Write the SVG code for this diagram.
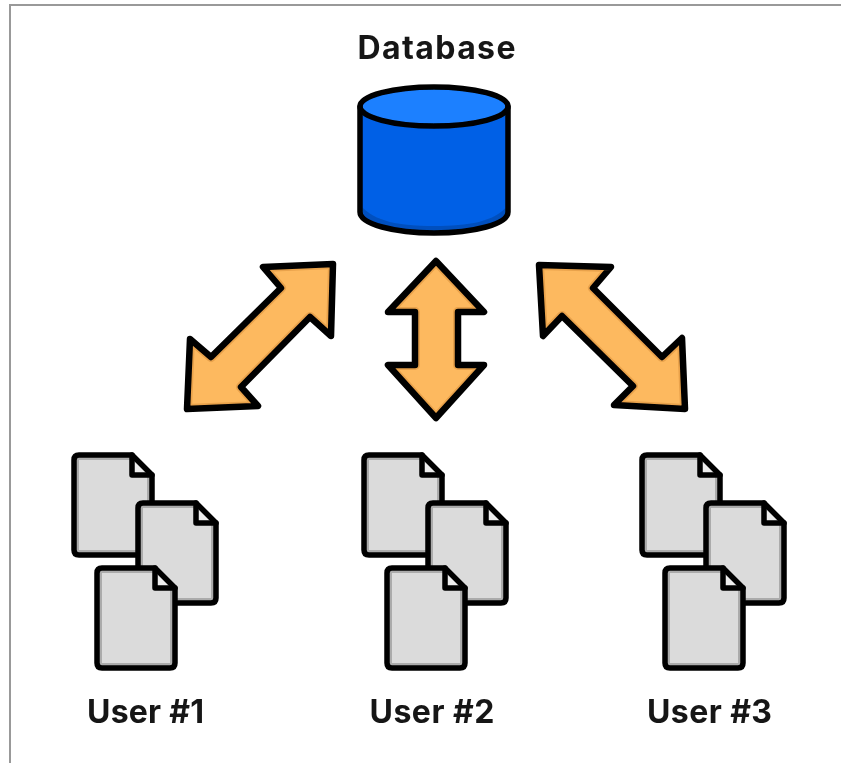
<svg xmlns="http://www.w3.org/2000/svg" width="841" height="763" viewBox="0 0 841 763">
<style>
.ln{fill:none;stroke:#000;stroke-width:5.5;stroke-linejoin:round;stroke-linecap:round}
.fat{stroke-width:6.500}
.ar{fill:#FDB95F;stroke:none}
.sh{fill:none;stroke:#E9A24B;stroke-width:10;stroke-linejoin:round}
.pg{fill:#DBDBDB;stroke:none}
.ps{fill:none;stroke:#ABABAB;stroke-width:10;stroke-linejoin:round}
.lb{font-family:"Inter","Liberation Sans",sans-serif;font-weight:700;font-size:32px;fill:#161616;text-anchor:middle}
</style>
<defs>
<filter id="soft" x="-5%" y="-5%" width="110%" height="110%"><feGaussianBlur stdDeviation="0.5"/></filter>
<clipPath id="c1"><path d="M263 267L333 264L331 336L310 317L241 387L258 406L187 409L190 339L211 357L281 288Z"/></clipPath>
<clipPath id="c2"><path d="M436 261L484 312H458V365H484L436 418L388 365H415V312H388Z"/></clipPath>
<clipPath id="c3"><path d="M539 265L611 267L593 288L662 357L682 338L685 409L614 405L633 386L562 316L543 336Z"/></clipPath>
<clipPath id="cd"><path d="M5 0H58L78 20V95Q78 100 73 100H5Q0 100 0 95V5Q0 0 5 0Z"/></clipPath>
<g id="doc">
<path class="pg" d="M5 0H58L78 20V95Q78 100 73 100H5Q0 100 0 95V5Q0 0 5 0Z"/>
<path class="ps" clip-path="url(#cd)" d="M5 0H58L78 20V95Q78 100 73 100H5Q0 100 0 95V5Q0 0 5 0Z"/>
<path d="M59 1V19H77Z" fill="#EDEDED"/>
<path class="ln" d="M5 0H58L78 20V95Q78 100 73 100H5Q0 100 0 95V5Q0 0 5 0Z"/>
<path class="ln" d="M58 0V20H78"/>
</g>
</defs>
<path d="M841 5H10V763" fill="none" stroke="#999" stroke-width="2"/>
<g filter="url(#soft)">
<g id="connectors">
<g id="arrow-user1">
<path class="ar" d="M263 267L333 264L331 336L310 317L241 387L258 406L187 409L190 339L211 357L281 288Z"/>
<path class="sh" clip-path="url(#c1)" d="M263 267L333 264L331 336L310 317L241 387L258 406L187 409L190 339L211 357L281 288Z"/>
<path class="ln fat" d="M263 267L333 264L331 336L310 317L241 387L258 406L187 409L190 339L211 357L281 288Z"/>
</g>
<g id="arrow-user2">
<path class="ar" d="M436 261L484 312H458V365H484L436 418L388 365H415V312H388Z"/>
<path class="sh" clip-path="url(#c2)" d="M436 261L484 312H458V365H484L436 418L388 365H415V312H388Z"/>
<path class="ln fat" d="M436 261L484 312H458V365H484L436 418L388 365H415V312H388Z"/>
</g>
<g id="arrow-user3">
<path class="ar" d="M539 265L611 267L593 288L662 357L682 338L685 409L614 405L633 386L562 316L543 336Z"/>
<path class="sh" clip-path="url(#c3)" d="M539 265L611 267L593 288L662 357L682 338L685 409L614 405L633 386L562 316L543 336Z"/>
<path class="ln fat" d="M539 265L611 267L593 288L662 357L682 338L685 409L614 405L633 386L562 316L543 336Z"/>
</g>
</g>
<g id="database">
<path d="M360 107V212C360 224 394 233 434 233S508 224 508 212V107Z" fill="#0561E6"/>
<path d="M360 205C375 222 400 226 434 226S495 222 508 205V214C505 226 470 233 434 233S364 226 360 214Z" fill="#0350BE"/>
<ellipse cx="434" cy="106.500" rx="74" ry="19.500" fill="#1C80FF"/>
<path class="ln" d="M360 107V212C360 224 394 233 434 233S508 224 508 212V107"/>
<ellipse class="ln" cx="434" cy="106.500" rx="74" ry="19.500"/>
<text class="lb" x="436.500" y="59" textLength="158">Database</text>
</g>
<g id="user1">
<use href="#doc" x="74" y="455"/><use href="#doc" x="138" y="503"/><use href="#doc" x="97" y="568"/>
<text class="lb" x="145.500" y="723" textLength="117">User #1</text>
</g>
<g id="user2">
<use href="#doc" x="364" y="455"/><use href="#doc" x="428" y="503"/><use href="#doc" x="387" y="568"/>
<text class="lb" x="432" y="723" textLength="125">User #2</text>
</g>
<g id="user3">
<use href="#doc" x="642" y="455"/><use href="#doc" x="706" y="503"/><use href="#doc" x="665" y="568"/>
<text class="lb" x="709.500" y="723" textLength="125">User #3</text>
</g>
</g>
</svg>
